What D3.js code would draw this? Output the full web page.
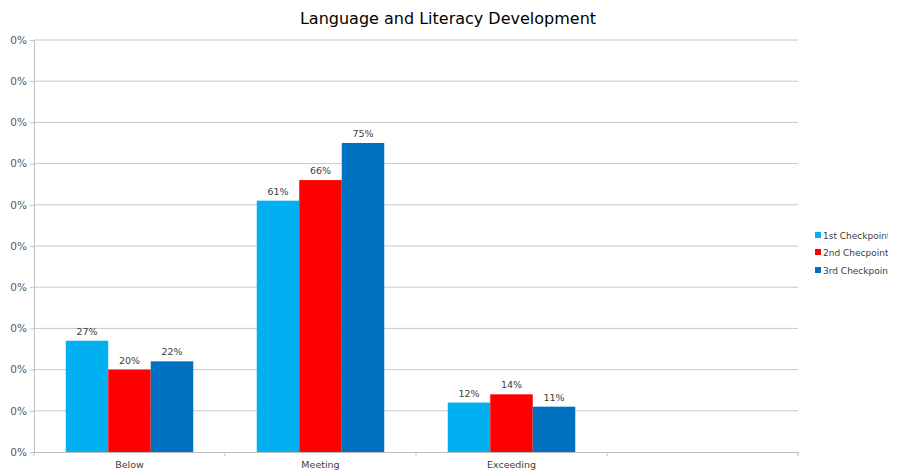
<!DOCTYPE html>
<html><head><meta charset="utf-8">
<script src="https://cdn.jsdelivr.net/npm/d3@7"></script>
<style>body{margin:0;background:#fff}svg{display:block}</style>
</head><body>
<svg id="c" width="908" height="471"></svg>
<script>
const categories = ["Below", "Meeting", "Exceeding", ""];
const seriesNames = ["1st Checkpoint", "2nd Checpoint", "3rd Checkpoint"];
const first = [27, 61, 12];
const second = [20, 66, 14];
const third = [22, 75, 11];
const yTicks = [0,10,20,30,40,50,60,70,80,90,100];
const colors = ["#00B0F0", "#FF0000", "#0070C0"];

const svg = d3.select("#c");
const font = "'DejaVu Sans', sans-serif";
const m = {l:34, r:798, t:40, b:452};
const x = d3.scaleBand().domain(categories).range([m.l, m.r]);
const y = d3.scaleLinear().domain([0,100]).range([m.b, m.t]);
const x1 = d3.scaleBand().domain(seriesNames).range([0, 127.5]);

const defs = svg.append("defs");
defs.append("clipPath").attr("id","lclip").append("rect").attr("x",800).attr("y",0).attr("width",88).attr("height",471);
defs.append("clipPath").attr("id","yclipG").append("rect").attr("x",10-m.l).attr("y",0).attr("width",40).attr("height",471);

// grid
svg.append("g").selectAll("line").data(yTicks.filter(d=>d>0)).join("line")
  .attr("x1",m.l).attr("x2",m.r).attr("y1",d=>y(d)).attr("y2",d=>y(d))
  .attr("stroke","#c8c8c8").attr("stroke-width",1);

// y axis
const ya = svg.append("g").attr("transform",`translate(${m.l},0)`)
  .call(d3.axisLeft(y).tickValues(yTicks).tickSize(4).tickFormat(d=>d+"%"));
ya.select(".domain").attr("stroke","#bfbfbf");
ya.selectAll(".tick line").attr("stroke","#bfbfbf");
ya.selectAll("text").attr("font-family",font).attr("font-size",10.5).attr("fill","#595959").attr("x",-7);
ya.attr("clip-path","url(#yclipG)");

// x axis
const xa = svg.append("g").attr("transform",`translate(0,${m.b})`)
  .call(d3.axisBottom(x).tickSize(0).tickPadding(9));
xa.select(".domain").attr("stroke","#bfbfbf");
xa.selectAll("text").attr("font-family",font).attr("font-size",9.5).attr("fill","#404040");
svg.append("g").selectAll("line").data(categories).join("line")
  .attr("x1",d=>x(d)).attr("x2",d=>x(d)).attr("y1",m.b).attr("y2",m.b+4).attr("stroke","#bfbfbf");
svg.append("line").attr("x1",m.r).attr("x2",m.r).attr("y1",m.b).attr("y2",m.b+4).attr("stroke","#bfbfbf");

// bars
const data = [first, second, third];
const pad = (x.bandwidth()-127.5)/2;
data.forEach((vals, si) => {
  const g = svg.append("g");
  g.selectAll("rect").data(vals).join("rect")
    .attr("x",(d,i)=>x(categories[i])+pad+x1(seriesNames[si]))
    .attr("width",x1.bandwidth())
    .attr("y",d=>y(d)).attr("height",d=>y(0)-y(d))
    .attr("fill",colors[si]);
  g.selectAll("text").data(vals).join("text")
    .attr("x",(d,i)=>x(categories[i])+pad+x1(seriesNames[si])+x1.bandwidth()/2)
    .attr("y",d=>y(d)-6)
    .attr("text-anchor","middle").attr("font-family",font).attr("font-size",9.5).attr("fill","#404040")
    .text(d=>d+"%");
});

// title
svg.append("text").attr("x",448).attr("y",24).attr("text-anchor","middle")
  .attr("font-family",font).attr("font-size",16).attr("fill","#000")
  .text("Language and Literacy Development");

// legend
const lg = svg.append("g").attr("clip-path","url(#lclip)");
const ly = [235, 252, 270];
seriesNames.forEach((s,i)=>{
  lg.append("rect").attr("x",815).attr("y",ly[i]-3).attr("width",6).attr("height",6).attr("fill",colors[i]);
  lg.append("text").attr("x",823).attr("y",ly[i]+3.5).attr("font-family",font).attr("font-size",9).attr("fill","#404040").text(s);
});
</script>
</body></html>
